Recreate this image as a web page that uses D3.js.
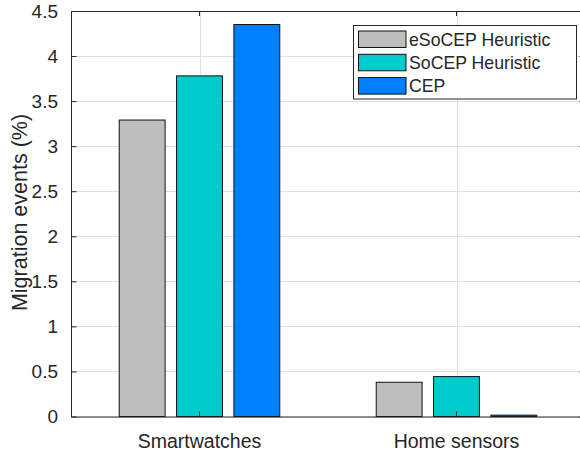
<!DOCTYPE html>
<html>
<head>
<meta charset="utf-8">
<script src="https://cdn.jsdelivr.net/npm/d3@7"></script>
<style>
  html, body { margin: 0; padding: 0; background: #fff; }
  svg { display: block; font-family: "Liberation Sans", Arial, Helvetica, sans-serif; }
</style>
</head>
<body>
<svg id="chart" width="580" height="451"></svg>
<script>
// Grouped bar data
const categories = ["Smartwatches", "Home sensors"];
const seriesNames = ["eSoCEP Heuristic", "SoCEP Heuristic", "CEP"];
const seriesColors = ["#bebebe", "#00cccc", "#0080ff"];
const eSoCEP = [3.29, 0.38];
const SoCEP = [3.78, 0.443];
const CEP = [4.35, 0.015];
const yTicks = [0, 0.5, 1, 1.5, 2, 2.5, 3, 3.5, 4, 4.5];
const yTickLabels = ["0", "0.5", "1", "1.5", "2", "2.5", "3", "3.5", "4", "4.5"];
const yLabel = "Migration events (%)";

const seriesValues = [eSoCEP, SoCEP, CEP];

const svg = d3.select("#chart");
const ink = "#262626";
const gridColor = "#dfdfdf";

const plotLeft = 71, plotRight = 585, plotTop = 11, plotBottom = 416.5;

const x0 = d3.scaleBand().domain(categories).range([plotLeft, plotRight]).padding(0);
const x1 = d3.scaleBand().domain(seriesNames).range([-86, 86]).paddingInner(0.2).paddingOuter(0.1);
const y = d3.scaleLinear().domain([0, 4.5]).range([plotBottom, plotTop]);

const center = c => x0(c) + x0.bandwidth() / 2;

// Grid lines
const grid = svg.append("g");
grid.selectAll("line.hy").data(yTicks).join("line")
  .attr("x1", plotLeft).attr("x2", plotRight)
  .attr("y1", d => Math.round(y(d)) + 0.5).attr("y2", d => Math.round(y(d)) + 0.5)
  .attr("stroke", gridColor).attr("stroke-width", 1);
grid.selectAll("line.vx").data(categories).join("line")
  .attr("x1", d => Math.round(center(d)) + 0.5).attr("x2", d => Math.round(center(d)) + 0.5)
  .attr("y1", plotTop).attr("y2", plotBottom)
  .attr("stroke", gridColor).attr("stroke-width", 1);

// Bars
const bars = svg.append("g");
seriesNames.forEach((s, si) => {
  bars.selectAll(null).data(categories).join("rect")
    .attr("x", c => center(c) + x1(s))
    .attr("y", (c, ci) => y(seriesValues[si][ci]))
    .attr("width", x1.bandwidth())
    .attr("height", (c, ci) => y(0) - y(seriesValues[si][ci]))
    .attr("fill", seriesColors[si])
    .attr("stroke", "#111")
    .attr("stroke-width", 1);
});

// Axes (box with inward ticks)
const axisG = svg.append("g");
const yAxis = d3.axisLeft(y).tickValues(yTicks).tickFormat((d, i) => yTickLabels[i]).tickSizeInner(-5.5).tickSizeOuter(0).tickPadding(13);
const yAxisR = d3.axisRight(y).tickValues(yTicks).tickFormat("").tickSizeInner(-5.5).tickSizeOuter(0);
const xAxis = d3.axisBottom(x0).tickSizeInner(-5).tickSizeOuter(0).tickPadding(18);
const xAxisT = d3.axisTop(x0).tickFormat("").tickSizeInner(-5).tickSizeOuter(0);

const gy = axisG.append("g").attr("transform", `translate(${plotLeft},0)`).call(yAxis);
const gyr = axisG.append("g").attr("transform", `translate(${plotRight},0)`).call(yAxisR);
const gx = axisG.append("g").attr("transform", `translate(0,${plotBottom})`).call(xAxis);
const gxt = axisG.append("g").attr("transform", `translate(0,${plotTop})`).call(xAxisT);

[gy, gyr, gx, gxt].forEach(g => {
  g.selectAll("path.domain").attr("stroke", ink).attr("stroke-width", 1);
  g.selectAll(".tick line").attr("stroke", ink);
  g.selectAll("text").attr("fill", ink).attr("font-family", "Liberation Sans, Arial, sans-serif");
});
gy.selectAll("text").attr("font-size", 19);
gx.selectAll("text").attr("font-size", 19.5);

// Y label
svg.append("text")
  .attr("transform", `translate(27,212.5) rotate(-90)`)
  .attr("text-anchor", "middle")
  .attr("font-size", 21.5)
  .attr("fill", ink)
  .text(yLabel);

// Legend
const legend = svg.append("g");
legend.append("rect")
  .attr("x", 353.5).attr("y", 25.5).attr("width", 223).attr("height", 73.5)
  .attr("fill", "#fff").attr("stroke", ink).attr("stroke-width", 1);
seriesNames.forEach((s, i) => {
  const ry = 31 + i * 23.3;
  legend.append("rect")
    .attr("x", 358.5).attr("y", ry).attr("width", 47.5).attr("height", 16.5)
    .attr("fill", seriesColors[i]).attr("stroke", "#111").attr("stroke-width", 1);
  legend.append("text")
    .attr("x", 409).attr("y", ry + 8.5).attr("dy", "0.35em")
    .attr("font-size", 17.7).attr("fill", ink)
    .text(s);
});
</script>
</body>
</html>
